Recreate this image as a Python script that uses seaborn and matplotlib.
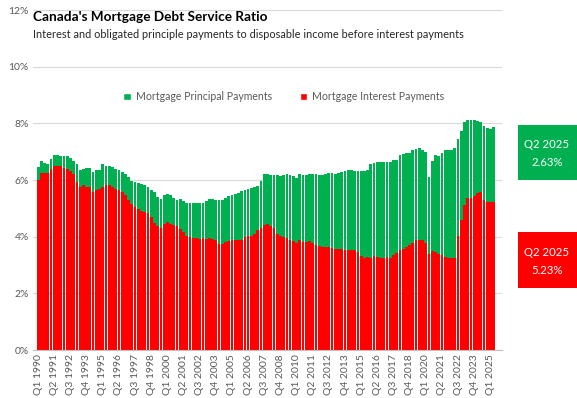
import matplotlib
matplotlib.use("Agg")
import matplotlib.pyplot as plt
from matplotlib.patches import Patch, Rectangle
import seaborn as sns
import pandas as pd
import numpy as np

# ---- data (percent of disposable income) ----
years = list(range(1990, 2026))
quarters = [f"Q{q} {y}" for y in years for q in range(1, 5)][:142]

interest = [
    6.01, 6.26, 6.25, 6.24, 6.40, 6.48, 6.50, 6.48, 6.41, 6.39, 6.32, 6.22,
    5.93, 5.75, 5.83, 5.77, 5.75, 5.57, 5.63, 5.69, 5.77, 5.83, 5.81, 5.75,
    5.69, 5.63, 5.58, 5.46, 5.30, 5.17, 5.05, 4.96, 4.91, 4.88, 4.84, 4.70,
    4.50, 4.36, 4.31, 4.46, 4.52, 4.44, 4.40, 4.36, 4.28, 4.16, 4.04, 3.98,
    3.96, 3.95, 3.93, 3.96, 3.93, 3.96, 3.93, 3.87, 3.75, 3.73, 3.81, 3.85,
    3.87, 3.87, 3.89, 3.89, 3.98, 4.01, 4.04, 4.10, 4.22, 4.30, 4.40, 4.44,
    4.37, 4.32, 4.10, 4.02, 4.00, 3.96, 3.87, 3.84, 3.76, 3.87, 3.81, 3.81,
    3.84, 3.76, 3.70, 3.66, 3.64, 3.64, 3.62, 3.60, 3.58, 3.58, 3.56, 3.54,
    3.52, 3.52, 3.52, 3.46, 3.31, 3.26, 3.29, 3.26, 3.31, 3.29, 3.26, 3.26,
    3.29, 3.26, 3.35, 3.42, 3.52, 3.58, 3.64, 3.70, 3.78, 3.87, 3.90, 3.90,
    3.76, 3.38, 3.50, 3.46, 3.38, 3.37, 3.29, 3.26, 3.23, 3.23, 4.02, 4.58,
    5.11, 5.35, 5.38, 5.43, 5.55, 5.59, 5.31, 5.24, 5.23, 5.23,
]
total = [
    6.45, 6.67, 6.60, 6.57, 6.75, 6.89, 6.87, 6.85, 6.86, 6.86, 6.78, 6.67,
    6.57, 6.34, 6.40, 6.43, 6.43, 6.28, 6.36, 6.37, 6.55, 6.51, 6.49, 6.45,
    6.40, 6.36, 6.30, 6.20, 6.10, 5.98, 5.92, 5.90, 5.85, 5.82, 5.77, 5.65,
    5.57, 5.40, 5.34, 5.46, 5.52, 5.48, 5.38, 5.31, 5.34, 5.25, 5.20, 5.20,
    5.20, 5.20, 5.19, 5.19, 5.25, 5.32, 5.32, 5.31, 5.29, 5.31, 5.38, 5.42,
    5.46, 5.50, 5.54, 5.60, 5.63, 5.69, 5.72, 5.75, 5.78, 5.96, 6.22, 6.22,
    6.19, 6.19, 6.16, 6.13, 6.16, 6.20, 6.16, 6.13, 6.07, 6.20, 6.19, 6.19,
    6.22, 6.22, 6.20, 6.19, 6.19, 6.22, 6.25, 6.26, 6.22, 6.25, 6.29, 6.31,
    6.34, 6.36, 6.32, 6.31, 6.31, 6.31, 6.36, 6.55, 6.61, 6.63, 6.63, 6.65,
    6.65, 6.63, 6.69, 6.72, 6.90, 6.93, 6.96, 6.96, 7.06, 7.10, 7.14, 7.06,
    6.98, 6.10, 6.66, 6.87, 6.84, 6.95, 7.06, 7.06, 7.06, 7.14, 7.46, 7.73,
    8.04, 8.12, 8.12, 8.12, 8.10, 8.04, 7.89, 7.82, 7.80, 7.86,
]
principal = [round(t - i, 2) for t, i in zip(total, interest)]

y_ticks = [0, 2, 4, 6, 8, 10, 12]
y_labels = ["0%", "2%", "4%", "6%", "8%", "10%", "12%"]
title = "Canada's Mortgage Debt Service Ratio"
subtitle = "Interest and obligated principle payments to disposable income before interest payments"
legend_labels = ["Mortgage Principal Payments", "Mortgage Interest Payments"]
last_label = "Q2 2025"
last_principal = "2.63%"
last_interest = "5.23%"

GREEN = "#00B050"
RED = "#FF0000"
GRAY = "#595959"

df = pd.DataFrame({"quarter": quarters, "interest": interest,
                   "principal": principal})
df["total"] = df["interest"] + df["principal"]

sns.set_theme(style="white")
plt.rcParams["font.family"] = ["Lato", "DejaVu Sans"]

fig = plt.figure(figsize=(5.77, 3.98), dpi=100)
ax = fig.add_axes([33 / 577, 48 / 398, 469 / 577, 340 / 398])

sns.barplot(data=df, x="quarter", y="total", color=GREEN, width=0.85,
            saturation=1, ax=ax, linewidth=0)
sns.barplot(data=df, x="quarter", y="interest", color=RED, width=0.85,
            saturation=1, ax=ax, linewidth=0)

ax.set_ylim(0, 12)
ax.set_xlim(-1.6, len(quarters) + 1.6)
ax.set_yticks(y_ticks)
ax.set_yticklabels(y_labels, fontsize=7.5, color=GRAY)
ax.yaxis.grid(True, color="#D9D9D9", linewidth=0.8)
ax.set_axisbelow(True)
ax.set_xlabel("")
ax.set_ylabel("")

idx = list(range(0, len(quarters), 5))
ax.set_xticks(idx)
ax.set_xticklabels([quarters[i] for i in idx], rotation=90, fontsize=7.5,
                   color=GRAY)
ax.tick_params(axis="both", length=0, pad=3)
for s in ["top", "right", "left"]:
    ax.spines[s].set_visible(False)
ax.spines["bottom"].set_color("#BFBFBF")
ax.spines["bottom"].set_linewidth(0.8)

handles = [Patch(facecolor=GREEN, label=legend_labels[0]),
           Patch(facecolor=RED, label=legend_labels[1])]
ax.legend(handles=handles, loc="center", bbox_to_anchor=(0.535, 0.745),
          ncol=2, frameon=False, fontsize=7.6, handlelength=0.7,
          handleheight=0.7, columnspacing=2.6, handletextpad=0.5,
          labelcolor=GRAY)

fig.text(33 / 577, 1 - 17 / 398, title, fontsize=9.8, fontweight="bold",
         va="center", ha="left", color="black")
fig.text(33 / 577, 1 - 35 / 398, subtitle, fontsize=7.9, va="center",
         ha="left", color="#262626")

# annotation boxes
fig.patches.append(Rectangle((518 / 577, 1 - 180 / 398), 59 / 577, 55 / 398,
                             transform=fig.transFigure, facecolor=GREEN,
                             edgecolor="none"))
fig.patches.append(Rectangle((518 / 577, 1 - 288 / 398), 59 / 577, 56 / 398,
                             transform=fig.transFigure, facecolor=RED,
                             edgecolor="none"))
for yc, val in [(145, last_principal), (253, last_interest)]:
    fig.text(547 / 577, 1 - yc / 398, last_label, fontsize=8.2, color="white",
             ha="center", va="center")
    fig.text(547 / 577, 1 - (yc + 17) / 398, val, fontsize=8.2, color="white",
             ha="center", va="center")

fig.savefig("out.png", dpi=100)
